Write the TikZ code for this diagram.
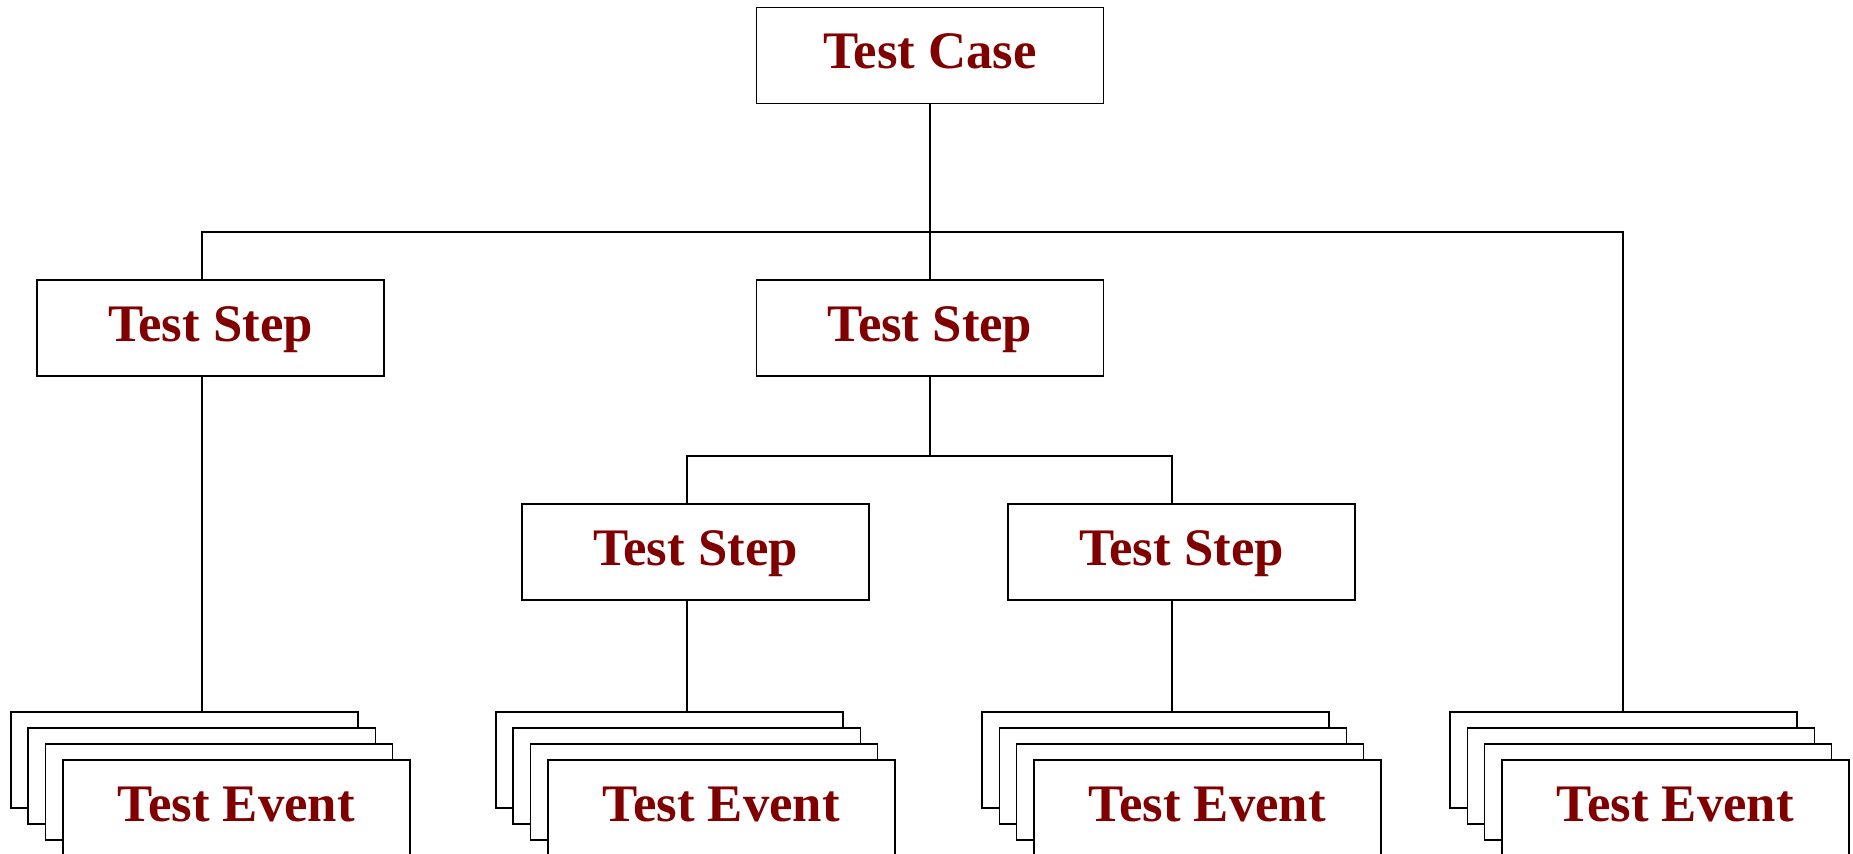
\documentclass[tikz,border=0pt]{standalone}
\usepackage{fontspec}
\setmainfont{Liberation Serif}
\usepackage{xcolor}
\usepackage{tikz}
\usetikzlibrary{calc}
\definecolor{boxred}{HTML}{800000}

\begin{document}
\begin{tikzpicture}[x=0.01cm, y=-0.01cm, line width=0.4pt,
    box/.style={draw=black, fill=white, rectangle, minimum width=34.7mm, minimum height=9.6mm, inner sep=0pt,
      text height=3.5mm, text depth=0.9mm, text=boxred, font=\fontsize{15}{18}\selectfont\bfseries}]
  \useasboundingbox (0,0) rectangle (1853,854);
  \node[box] (case) at (930,55.5) {Test Case};
  \node[box] (stepL) at (210.5,328) {Test Step};
  \node[box] (stepM) at (930,328) {Test Step};
  \node[box] (stepA) at (695.5,552) {Test Step};
  \node[box] (stepB) at (1181.5,552) {Test Step};
  \foreach \s/\x in {L/184.5, A/669.5, B/1155.5, R/1623.5}{
    \foreach \k in {1,2,3}
      \node[box] (ev\s-\k) at ({\x+17.3*(\k-1)},{760+16*(\k-1)}) {};
    \node[box] (ev\s-4) at ({\x+17.3*3},{760+16*3}) {Test Event};
  }
  \coordinate (jL) at (202,232);
  \coordinate (jR) at (1623,232);
  \coordinate (jA) at (687,456);
  \coordinate (jB) at (1172,456);
  \draw (case.south) -- (stepM.north);
  \draw (jL |- stepL.north) -- (jL) -- (jR) -- (jR |- evR-1.north);
  \draw (jL |- stepL.south) -- (jL |- evL-1.north);
  \draw (stepM.south) -- (stepM.south |- jA);
  \draw (jA |- stepA.north) -- (jA) -- (jB) -- (jB |- stepB.north);
  \draw (jA |- stepA.south) -- (jA |- evA-1.north);
  \draw (jB |- stepB.south) -- (jB |- evB-1.north);
\end{tikzpicture}
\end{document}
